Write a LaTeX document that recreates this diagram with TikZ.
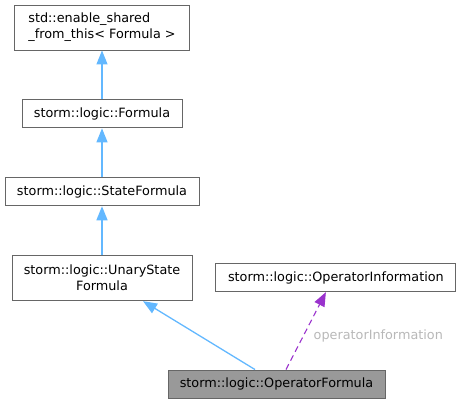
\documentclass[tikz,border=0pt]{standalone}
\usepackage{fontspec}
\setmainfont{DejaVu Sans}
\usetikzlibrary{arrows.meta, positioning}
\definecolor{edgeline}{HTML}{666666}
\definecolor{inheritblue}{HTML}{63B8FF}
\definecolor{usagepurple}{HTML}{9A32CD}
\definecolor{labelgrey}{HTML}{B8B8B8}
\definecolor{focusfill}{HTML}{999999}

\begin{document}
\begin{tikzpicture}[
  x=1pt, y=-1pt,
  every node/.style={font=\fontsize{12.8}{16}\selectfont},
  node distance=49pt and 23pt,
]

\tikzset{
  classbox/.style={rectangle, draw=edgeline, fill=white, line width=0.9pt,
    inner xsep=0pt, inner ysep=0pt, minimum height=28pt},
  twoline/.style={classbox, minimum height=45pt},
  focusbox/.style={classbox, fill=focusfill},
  inherit/.style={-{Triangle[length=14pt, width=11pt]}, inheritblue, line width=1.3pt},
  usage/.style={-{Triangle[length=14pt, width=11pt]}, usagepurple, dashed,
    dash pattern=on 6pt off 4pt, line width=1.1pt},
  edgelabel/.style={text=labelgrey, inner sep=2pt},
}

\useasboundingbox (0,0) rectangle (460,404);

% ---- inheritance chain ----
\node[twoline, minimum width=175pt, align=left] (sharedbase) at (102,27.5)
  {std::enable\_shared\\\_from\_this< Formula >};
\node[classbox, minimum width=160pt, below=of sharedbase] (formula)
  {storm::logic::Formula};
\node[classbox, minimum width=194pt, below=of formula] (stateformula)
  {storm::logic::StateFormula};
\node[twoline, minimum width=180pt, align=center, below=of stateformula] (unarystate)
  {storm::logic::UnaryState\\Formula};

% ---- member type ----
\node[classbox, minimum width=240pt, right=of unarystate, yshift=0.5pt] (opinfo)
  {storm::logic::OperatorInformation};
\node[focusbox, minimum width=217pt] (opformula) at (276.5,384)
  {storm::logic::OperatorFormula};

\draw[inherit] (formula) -- (sharedbase);
\draw[inherit] (stateformula) -- (formula);
\draw[inherit] (unarystate) -- (stateformula);
\draw[inherit] ([xshift=-21.5pt]opformula.north) -- ([xshift=41pt]unarystate.south);
\draw[usage] ([xshift=9.5pt]opformula.north) -- node[edgelabel, pos=0.43, right=8pt]
  {operatorInformation} ([xshift=-10pt]opinfo.south);

\end{tikzpicture}
\end{document}
